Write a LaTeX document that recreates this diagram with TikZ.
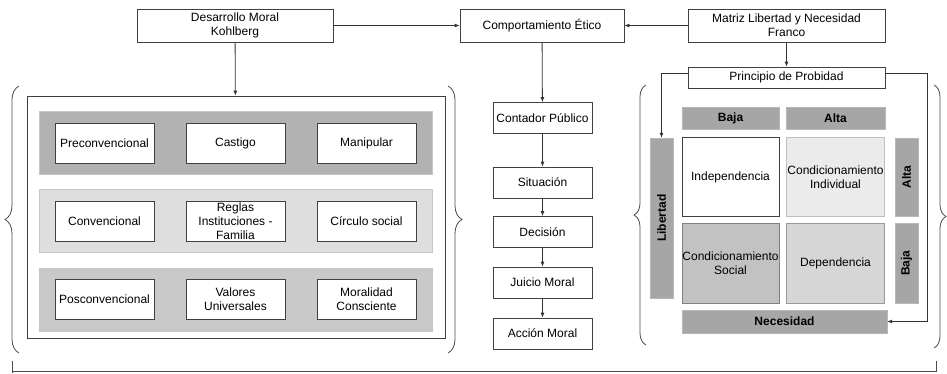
\documentclass[tikz,border=0pt]{standalone}
\usepackage{fontspec}
\setmainfont{Liberation Sans}
\usetikzlibrary{arrows.meta,decorations.pathreplacing}

\begin{document}
\begin{tikzpicture}[x=1pt,y=-1pt,
	box/.style={draw=black!75,fill=white,line width=0.8pt,align=center,inner sep=0pt,minimum width=99pt,font=\fontsize{12}{14}\selectfont},
	band/.style={draw=black!22,line width=0.8pt,minimum width=393pt,minimum height=63pt},
	bar/.style={fill=black!35,draw=black!28,inner sep=0pt,font=\fontsize{12}{14}\selectfont\bfseries},
	cell/.style={line width=0.8pt,align=center,inner sep=0pt,minimum width=98pt,minimum height=79pt,font=\fontsize{12}{14}\selectfont},
	arrow/.style={-{Latex[length=5pt,width=4pt]},line width=0.8pt,black!80},
	curly/.style={decorate,decoration={brace,amplitude=#1},line width=0.8pt,black!70}]
	\useasboundingbox (0,0) rectangle (947,373);
	% top row
	\node[box,minimum width=196pt,minimum height=33pt] (desarrollo) at (235,25.5) {Desarrollo Moral\\Kohlberg};
	\node[box,minimum width=164pt,minimum height=33pt] (comportamiento) at (542,25.5) {Comportamiento Ético};
	\node[box,minimum width=197pt,minimum height=33pt] (matriz) at (786.5,25.5) {Matriz Libertad y Necesidad\\Franco};
	\node[box,minimum width=197pt,minimum height=21pt] (principio) at (786.5,77.5) {Principio de Probidad};
	% Kohlberg levels
	\node[draw=black!75,line width=0.8pt,minimum width=418pt,minimum height=242pt] (kohlberg) at (236,217) {};
	\node[band,fill=black!30] (nivel1) at (235.5,142.5) {};
	\node[band,fill=black!13] (nivel2) at (235.5,220.5) {};
	\node[band,fill=black!21] (nivel3) at (235.5,299.5) {};
	\node[box,minimum height=40pt] (preconv) at (104.5,143) {Preconvencional};
	\node[box,minimum height=40pt] (castigo) at (235.5,143) {Castigo};
	\node[box,minimum height=40pt] (manipular) at (366.5,143) {Manipular};
	\node[box,minimum height=40pt] (conv) at (104.5,221) {Convencional};
	\node[box,minimum height=40pt] (reglas) at (235.5,221) {Reglas\\Instituciones -\\Familia};
	\node[box,minimum height=40pt] (circulo) at (366.5,221) {Círculo social};
	\node[box,minimum height=40pt] (posconv) at (104.5,299) {Posconvencional};
	\node[box,minimum height=40pt] (valores) at (235.5,299) {Valores\\Universales};
	\node[box,minimum height=40pt] (moralidad) at (366.5,299) {Moralidad\\Consciente};
	% middle column
	\node[box,minimum height=31pt] (contador) at (542.5,118) {Contador Público};
	\node[box,minimum height=31pt] (situacion) at (542.5,182.5) {Situación};
	\node[box,minimum height=31pt] (decision) at (542.5,232) {Decisión};
	\node[box,minimum height=31pt] (juicio) at (542.5,282.5) {Juicio Moral};
	\node[box,minimum height=31pt] (accion) at (542.5,333.5) {Acción Moral};
	% matrix
	\node[bar,minimum width=97pt,minimum height=22pt] (colbaja) at (730.5,118) {Baja};
	\node[bar,minimum width=99pt,minimum height=22pt] (colalta) at (835.5,118) {Alta};
	\node[bar,rotate=90,minimum width=160pt,minimum height=23pt] (libertad) at (661.5,218) {Libertad};
	\node[cell,draw=black!75,fill=white,minimum width=97pt] (independencia) at (730.5,177) {Independencia};
	\node[cell,draw=black!25,fill=black!8] (condind) at (835.5,177) {Condicionamiento\\Individual};
	\node[bar,rotate=90,minimum width=78pt,minimum height=23pt] (filaalta) at (906.5,177) {Alta};
	\node[cell,draw=black!50,fill=black!24,minimum width=97pt,minimum height=80pt] (condsoc) at (730.5,263) {Condicionamiento\\Social};
	\node[cell,draw=black!40,fill=black!16,minimum height=80pt] (dependencia) at (835.5,263) {Dependencia};
	\node[bar,rotate=90,minimum width=80pt,minimum height=23pt] (filabaja) at (906.5,263) {Baja};
	\node[bar,minimum width=205pt,minimum height=23pt] (necesidad) at (784.5,321.5) {Necesidad};
	% connectors
	\draw[arrow] (desarrollo) -- (comportamiento);
	\draw[arrow] (matriz) -- (comportamiento);
	\draw[arrow] (desarrollo) -- (kohlberg);
	\draw[arrow] (comportamiento) -- (contador);
	\draw[arrow] (contador) -- (situacion);
	\draw[arrow] (situacion) -- (decision);
	\draw[arrow] (decision) -- (juicio);
	\draw[arrow] (juicio) -- (accion);
	\draw[arrow] (matriz) -- (principio);
	\draw[arrow] ([yshift=4pt]principio.west) -| (libertad.east);
	\draw[arrow] ([yshift=4pt]principio.east) -- ++(42,0) |- (necesidad.east);
	% braces
	\draw[curly=14pt] (19,353) -- (19,86);
	\draw[curly=14pt] (448,86) -- (448,353);
	\draw[curly=12pt] (646,345) -- (646,85);
	\draw[curly=12pt] (934,85) -- (934,348);
	\draw[line width=0.8pt,black!70] (12,361) -- (12,373) (12,371) -- (936,371) -- (936,361);
\end{tikzpicture}
\end{document}
